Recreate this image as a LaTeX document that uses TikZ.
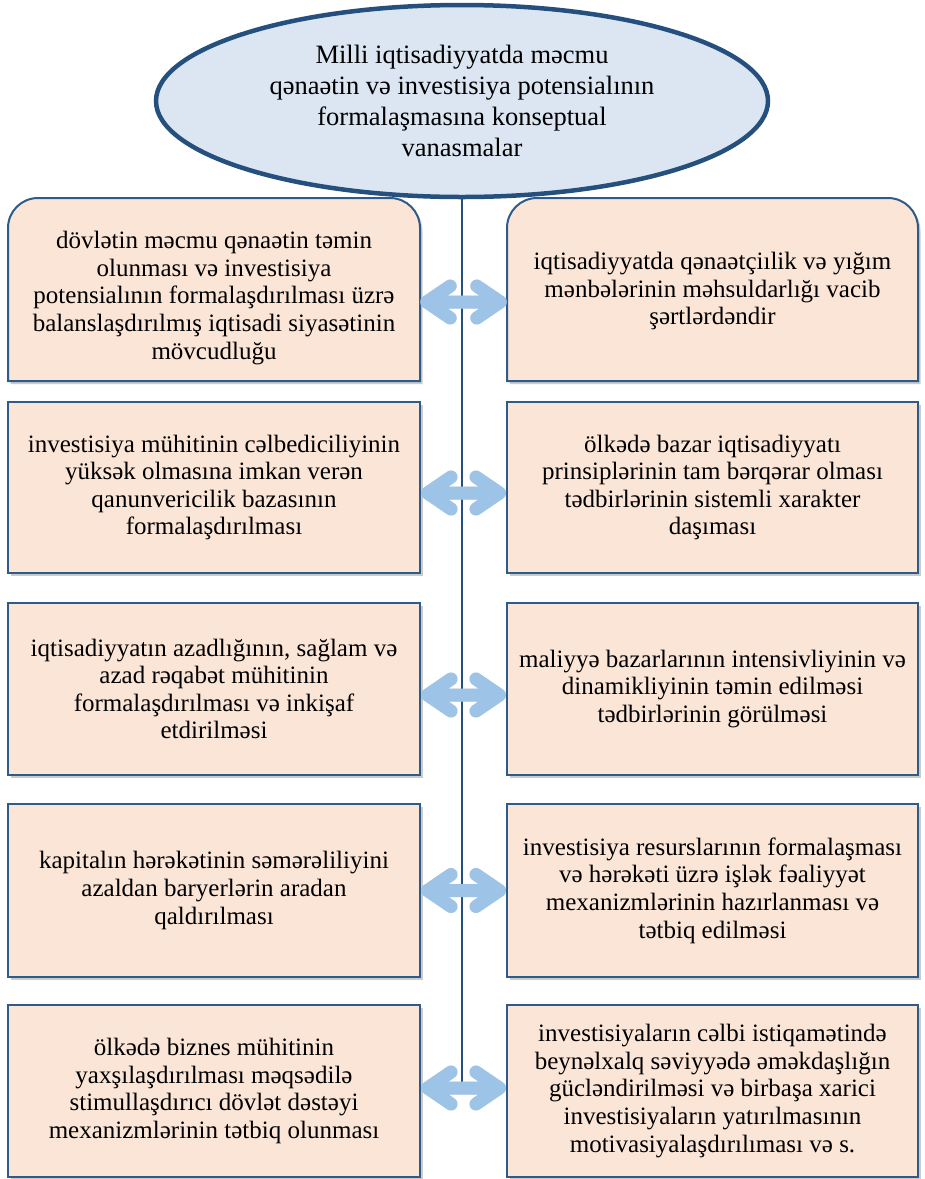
\documentclass[tikz,border=0pt]{standalone}
\usepackage{fontspec}
\setmainfont{Liberation Serif}
\usetikzlibrary{shapes.geometric,calc}
\definecolor{boxfill}{HTML}{FBE5D6}
\definecolor{boxline}{HTML}{2E5C8A}
\definecolor{ellfill}{HTML}{DCE6F2}
\definecolor{ellline}{HTML}{25507D}
\definecolor{arrowc}{HTML}{9DC3E6}
\newcommand\biarrow[2]{%
  \begin{scope}[shift={(2.5,4)}]
  \draw[arrowshadow] ($(#1)+(30,-16)$) -- ($(#1)+(6.5,0)$) -- ($(#1)+(30,16)$)
        ($(#1)+(6.5,0)$) -- ($(#2)+(-6.5,0)$)
        ($(#2)+(-30,-16)$) -- ($(#2)+(-6.5,0)$) -- ($(#2)+(-30,16)$);
  \end{scope}
  \draw[arrowstyle] ($(#1)+(30,-16)$) -- ($(#1)+(6.5,0)$) -- ($(#1)+(30,16)$)
        ($(#1)+(6.5,0)$) -- ($(#2)+(-6.5,0)$)
        ($(#2)+(-30,-16)$) -- ($(#2)+(-6.5,0)$) -- ($(#2)+(-30,16)$);
}
\begin{document}
\begin{tikzpicture}[x=1pt,y=-1pt,
  boxfont/.style={font=\fontsize{25}{27.6}\selectfont},
  boxstyle/.style={draw=boxline, line width=2pt, fill=boxfill, inner sep=0pt,
    minimum width=412pt, align=center, boxfont,
    preaction={fill=black!45, opacity=0.45, transform canvas={xshift=2.5pt,yshift=-3pt}}},
  topbox/.style={inner sep=0pt, minimum width=412pt},
  shapeline/.style={draw=boxline, line width=2pt, fill=boxfill,
    preaction={fill=black!45, opacity=0.45, transform canvas={xshift=2.5pt,yshift=-3pt}}},
  ellstyle/.style={ellipse, draw=ellline, line width=4.5pt, fill=ellfill,
    minimum width=612pt, minimum height=192pt, inner sep=0pt, align=center,
    font=\fontsize{26.5}{31}\selectfont},
  trunk/.style={draw=ellline, line width=1.8pt},
  arrowstyle/.style={draw=arrowc, line width=13pt, line cap=round, line join=round},
  arrowshadow/.style={draw=black!30, opacity=0.35, line width=13pt, line cap=round, line join=round}
]
\useasboundingbox (0,0) rectangle (925,1179);
\fill[white] (0,0) rectangle (925,1179);

% row 1 (rounded top corners)
\draw[shapeline] (8,381) -- (8,228) arc[start angle=180,end angle=90,radius=30pt]
   -- (390,198) arc[start angle=90,end angle=0,radius=30pt] -- (420,381) -- cycle;
\draw[shapeline] (507,381) -- (507,228) arc[start angle=180,end angle=90,radius=30pt]
   -- (888,198) arc[start angle=90,end angle=0,radius=30pt] -- (918,381) -- cycle;
\node[topbox, minimum height=183pt] (L1) at (214,289.5) {};
\node[topbox, minimum width=411pt, minimum height=183pt] (R1) at (712.5,289.5) {};
\node[boxfont, align=center] (L1t) at (214,298)
  {dövlətin məcmu qənaətin təmin\\ olunması və investisiya\\ potensialının formalaşdırılması üzrə\\ balanslaşdırılmış iqtisadi siyasətinin\\ mövcudluğu};
\node[boxfont, align=center] (R1t) at (712.5,291)
  {iqtisadiyyatda qənaətçiılik və yığım\\ mənbələrinin məhsuldarlığı vacib\\ şərtlərdəndir};

% rows 2-5
\node[boxstyle, minimum height=171pt] (L2) at (214,487.5)
  {investisiya mühitinin cəlbediciliyinin\\ yüksək olmasına imkan verən\\ qanunvericilik bazasının\\ formalaşdırılması};
\node[boxstyle, minimum width=411pt, minimum height=171pt] (R2) at (712.5,487.5)
  {ölkədə bazar iqtisadiyyatı\\ prinsiplərinin tam bərqərar olması\\ tədbirlərinin sistemli xarakter\\ daşıması};
\node[boxstyle, minimum height=172pt] (L3) at (214,689)
  {iqtisadiyyatın azadlığının, sağlam və\\ azad rəqabət mühitinin\\ formalaşdırılması və inkişaf\\ etdirilməsi};
\node[boxstyle, minimum width=411pt, minimum height=172pt] (R3) at (712.5,689)
  {maliyyə bazarlarının intensivliyinin və\\ dinamikliyinin təmin edilməsi\\ tədbirlərinin görülməsi};
\node[boxstyle, minimum height=173pt] (L4) at (214,890.5)
  {kapitalın hərəkətinin səmərəliliyini\\ azaldan baryerlərin aradan\\ qaldırılması};
\node[boxstyle, minimum width=411pt, minimum height=173pt] (R4) at (712.5,890.5)
  {investisiya resurslarının formalaşması\\ və hərəkəti üzrə işlək fəaliyyət\\ mexanizmlərinin hazırlanması və\\ tətbiq edilməsi};
\node[boxstyle, minimum height=172pt] (L5) at (214,1091)
  {ölkədə biznes mühitinin\\ yaxşılaşdırılması məqsədilə\\ stimullaşdırıcı dövlət dəstəyi\\ mexanizmlərinin tətbiq olunması};
\node[boxstyle, minimum width=411pt, minimum height=172pt] (R5) at (712.5,1091)
  {investisiyaların cəlbi istiqamətində\\ beynəlxalq səviyyədə əməkdaşlığın\\ gücləndirilməsi və birbaşa xarici\\ investisiyaların yatırılmasının\\ motivasiyalaşdırılıması və s.};

% trunk line
\coordinate (tEnd) at (462,1088);
\coordinate (tTop) at (462,190);
\draw[trunk] (tTop) -- (tEnd);

% ellipse
\node[ellstyle] (E) at (462,101)
  {Milli iqtisadiyyatda məcmu\\ qənaətin və investisiya potensialının\\ formalaşmasına konseptual\\ vanasmalar};

% arrows
\coordinate (a1) at ([yshift=-12.5pt]L1.east);
\coordinate (b1) at ([yshift=-12.5pt]R1.west);
\coordinate (a2) at ([yshift=-5.5pt]L2.east);
\coordinate (b2) at ([yshift=-5.5pt]R2.west);
\coordinate (a3) at ([yshift=-6pt]L3.east);
\coordinate (b3) at ([yshift=-6pt]R3.west);
\coordinate (a4) at ([yshift=0pt]L4.east);
\coordinate (b4) at ([yshift=0pt]R4.west);
\coordinate (a5) at ([yshift=3pt]L5.east);
\coordinate (b5) at ([yshift=3pt]R5.west);
\biarrow{a1}{b1}
\biarrow{a2}{b2}
\biarrow{a3}{b3}
\biarrow{a4}{b4}
\biarrow{a5}{b5}
\end{tikzpicture}
\end{document}
